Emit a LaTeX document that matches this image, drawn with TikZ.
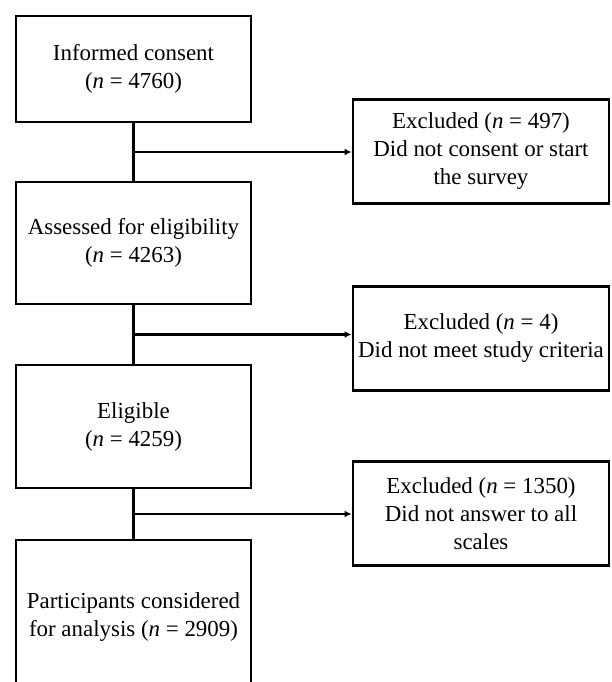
\documentclass[tikz,border=0pt]{standalone}
\usepackage{fontspec}
\setmainfont{Liberation Serif}
\usetikzlibrary{arrows.meta}
\tikzset{
  stagebox/.style={draw, line width=1.7pt, inner sep=0pt, align=center,
    minimum width=5.875cm, font=\fontsize{16.3pt}{19.9pt}\selectfont},
  exclbox/.style={stagebox, minimum width=6.4cm, minimum height=2.6cm},
  flowline/.style={line width=1.6pt},
  flowarrow/.style={flowline, -{Latex[length=1.8mm,width=1.7mm]}}
}
\begin{document}
\begin{tikzpicture}[x=0.025cm,y=-0.025cm]
\useasboundingbox (0,0) rectangle (611,682);
\clip (0,0) rectangle (611,682);
% main flow
\node[stagebox, minimum height=2.65cm] (consent) at (133.5,69) {Informed consent\\(\textit{n} = 4760)};
\node[stagebox, minimum height=3.05cm] (assessed) at (133.5,243) {Assessed for eligibility\\(\textit{n} = 4263)};
\node[stagebox, minimum height=3.075cm] (eligible) at (133.5,426.5) {Eligible\\(\textit{n} = 4259)};
\node[stagebox, minimum height=3.85cm] (analysis) at (133.5,617) {Participants considered\\for analysis (\textit{n} = 2909)};
% exclusions
\node[exclbox] (excla) at (481,151.5) {Excluded (\textit{n} = 497)\\Did not consent or start\\the survey};
\node[exclbox] (exclb) at (481,338.5) {Excluded (\textit{n} = 4)\\Did not meet study criteria};
\node[exclbox] (exclc) at (481,513.5) {Excluded (\textit{n} = 1350)\\Did not answer to all\\scales};
\draw[flowline] (consent.south) -- (assessed.north) coordinate[pos=0.5] (ja);
\draw[flowline] (assessed.south) -- (eligible.north) coordinate[pos=0.5] (jb);
\draw[flowline] (eligible.south) -- (analysis.north) coordinate[pos=0.5] (jc);
\draw[flowarrow] (ja) -- (ja -| excla.west);
\draw[flowarrow] (jb) -- (jb -| exclb.west);
\draw[flowarrow] (jc) -- (jc -| exclc.west);
\end{tikzpicture}
\end{document}
